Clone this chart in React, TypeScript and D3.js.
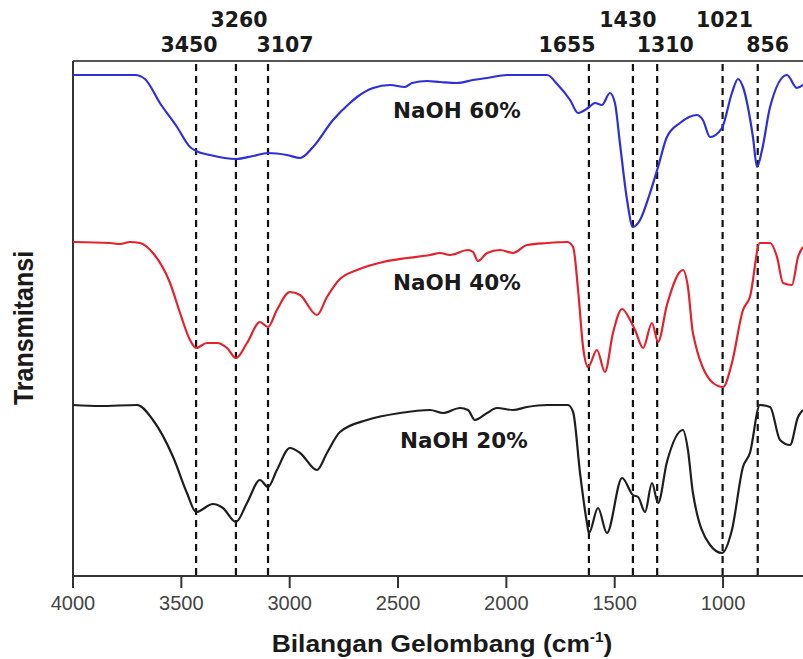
import React from "react";
import * as d3 from "d3";

// wavenumber (cm^-1), transmittance (arbitrary units, stacked)
const naoh60: [number, number][] = [[4000,501],[3714,501],[3668,497],[3599,473],[3520,449],[3460,429],[3432,425],[3368,421],[3248,417],[3169,420],[3100,423],[3012,421],[2952,418],[2892,429],[2800,456],[2722,473],[2689,479],[2615,488],[2537,491],[2468,489],[2435,493],[2366,495],[2306,494],[2228,493],[2154,496],[2089,498],[1997,501],[1812,501],[1766,492],[1706,476],[1669,463],[1623,468],[1591,473],[1559,471],[1522,483],[1499,473],[1476,433],[1443,376],[1416,349],[1383,356],[1337,383],[1300,409],[1259,439],[1199,453],[1120,461],[1093,456],[1060,439],[1005,448],[959,483],[931,497],[908,489],[862,439],[843,409],[820,426],[783,469],[705,501],[659,488],[631,491]];

const naoh40: [number, number][] = [[4000,334],[3829,333],[3783,332],[3737,334],[3691,333],[3631,323],[3552,293],[3506,263],[3460,236],[3432,228],[3382,233],[3335,233],[3289,228],[3248,218],[3197,233],[3137,254],[3100,249],[3059,266],[2999,284],[2952,281],[2874,261],[2828,279],[2768,297],[2689,306],[2569,314],[2459,318],[2352,321],[2306,323],[2260,321],[2177,326],[2154,324],[2131,315],[2089,323],[2029,326],[1969,323],[1905,331],[1812,333],[1720,334],[1692,329],[1669,286],[1646,229],[1623,209],[1582,226],[1545,204],[1508,243],[1466,267],[1429,256],[1406,246],[1369,228],[1328,253],[1300,234],[1259,271],[1185,306],[1162,289],[1139,243],[1046,193],[1000,189],[959,213],[908,266],[876,279],[830,333],[783,333],[751,319],[723,293],[682,291],[654,319],[631,329]];

const naoh20: [number, number][] = [[4000,171],[3875,170],[3705,171],[3631,156],[3538,119],[3474,83],[3432,64],[3354,72],[3308,68],[3248,54],[3197,73],[3137,96],[3100,89],[3059,106],[2999,128],[2952,123],[2874,106],[2828,123],[2768,144],[2643,156],[2491,163],[2352,166],[2292,163],[2214,168],[2177,166],[2145,156],[2089,163],[2043,168],[1969,166],[1905,169],[1812,171],[1716,171],[1692,164],[1660,103],[1628,53],[1619,43],[1577,68],[1536,43],[1466,98],[1416,81],[1392,79],[1360,64],[1328,93],[1300,73],[1259,114],[1185,146],[1162,126],[1139,83],[1060,31],[1005,23],[959,46],[908,109],[876,123],[830,171],[783,169],[737,136],[691,131],[654,159],[631,166]];

const seriesNames = ["NaOH 60%", "NaOH 40%", "NaOH 20%"];
const seriesColors = ["#2f2fd8", "#e3222c", "#1e1e1e"];
const seriesData = [naoh60, naoh40, naoh20];
const seriesLabelAt: [number, number][] = [[2523, 458], [2523, 286], [2491, 128]];

const peakLabels = ["3450", "3260", "3107", "1655", "1430", "1310", "1021", "856"];
const peakLines = [3432, 3248, 3100, 1619, 1416, 1304, 1002, 840];
const peakRow = [0, 1, 0, 0, 1, 0, 1, 0];
const peakDx = [-7, 3, 17, -22, -5, 8, 2, 10];

const xTicks = [4000, 3500, 3000, 2500, 2000, 1500, 1000];

export default function App() {
  const left = 73, right = 803, top = 61, bottom = 576;
  const x = d3.scaleLinear().domain([4000, 631]).range([left, right]);
  const y = d3.scaleLinear().domain([0, 515]).range([bottom, top]);
  const line = d3
    .line<[number, number]>()
    .x((d) => x(d[0]))
    .y((d) => y(d[1]))
    .curve(d3.curveMonotoneX);

  return (
    <svg
      width={803}
      height={659}
      style={{ position: "absolute", left: 0, top: 0, background: "#fff" }}
    >
      <rect x={0} y={0} width={803} height={659} fill="#fff" />
      {/* frame */}
      <line x1={left} x2={right} y1={top} y2={top} stroke="#555" strokeWidth={2} />
      <line x1={left} x2={left} y1={top} y2={bottom} stroke="#333" strokeWidth={2} />
      <line x1={left} x2={right} y1={bottom} y2={bottom} stroke="#333" strokeWidth={2} />
      {xTicks.map((t) => (
        <g key={t}>
          <line x1={x(t)} x2={x(t)} y1={bottom} y2={bottom + 12} stroke="#333" strokeWidth={2} />
          <text
            x={x(t)}
            y={bottom + 34}
            textAnchor="middle"
            fontFamily="'Liberation Sans', Arial, sans-serif"
            fontSize={20}
            fill="#444"
          >
            {t}
          </text>
        </g>
      ))}
      {/* dashed peak lines */}
      {peakLines.map((p, i) => (
        <line
          key={"d" + i}
          x1={x(p)}
          x2={x(p)}
          y1={top + 3}
          y2={bottom - 1}
          stroke="#111"
          strokeWidth={2.2}
          strokeDasharray="7,5"
        />
      ))}
      {peakLabels.map((l, i) => (
        <text
          key={"p" + i}
          x={x(peakLines[i]) + peakDx[i]}
          y={peakRow[i] === 1 ? 27 : 52}
          textAnchor="middle"
          fontFamily="'DejaVu Sans', sans-serif"
          fontWeight="bold"
          fontSize={20.5}
          fill="#1a1a1a"
        >
          {l}
        </text>
      ))}
      {/* spectra */}
      <clipPath id="plotclip">
        <rect x={left} y={0} width={right - left} height={bottom} />
      </clipPath>
      <g clipPath="url(#plotclip)">
        {seriesData.map((s, i) => (
          <path
            key={"s" + i}
            d={line(s) || ""}
            fill="none"
            stroke={seriesColors[i]}
            strokeWidth={2.2}
            strokeLinejoin="round"
          />
        ))}
      </g>
      {seriesNames.map((n, i) => (
        <text
          key={"n" + i}
          x={x(seriesLabelAt[i][0])}
          y={y(seriesLabelAt[i][1])}
          fontFamily="'DejaVu Sans', sans-serif"
          fontWeight="bold"
          fontSize={21.5}
          fill="#1a1a1a"
        >
          {n}
        </text>
      ))}
      {/* axis titles */}
      <text
        transform="translate(33,328) rotate(-90) scale(1,1.1)"
        textAnchor="middle"
        fontFamily="'Liberation Sans', Arial, sans-serif"
        fontWeight="bold"
        fontSize={25}
        fill="#1a1a1a"
      >
        Transmitansi
      </text>
      <text
        transform="translate(442,652) scale(1.1,1)"
        textAnchor="middle"
        fontFamily="'Liberation Sans', Arial, sans-serif"
        fontWeight="bold"
        fontSize={24}
        fill="#1a1a1a"
      >
        Bilangan Gelombang (cm
        <tspan fontSize={14} dy={-10}>-1</tspan>
        <tspan dy={10}>)</tspan>
      </text>
    </svg>
  );
}
